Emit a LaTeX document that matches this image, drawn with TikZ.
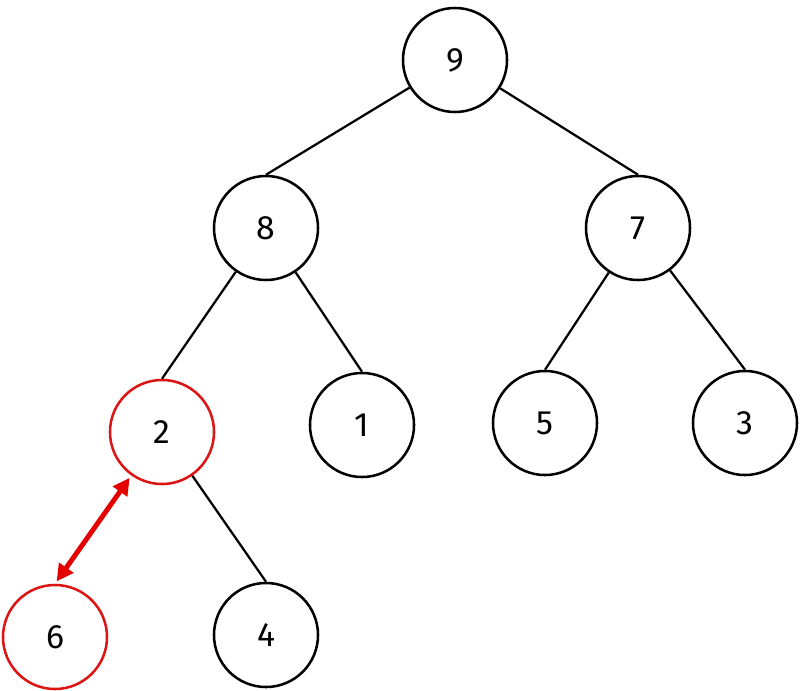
\documentclass[tikz,border=0pt]{standalone}
\usepackage{fontspec}
\setmainfont{Fira Sans}
\usetikzlibrary{arrows.meta}
\begin{document}
\begin{tikzpicture}[x=0.025cm,y=-0.025cm,
  n/.style={circle,draw,line width=1.8pt,minimum size=2.6cm,inner sep=0pt,font=\fontsize{24}{28}\selectfont},
  r/.style={n,draw={rgb,255:red,220;green,20;blue,20}},
  e/.style={line width=1.6pt}]
\useasboundingbox (0,0) rectangle (800,690);
\node[n] (n9) at (455,60) {9};
\node[n] (n8) at (266,228) {8};
\node[n] (n7) at (638,228) {7};
\node[r] (n2) at (162,432) {2};
\node[n] (n1) at (362,425) {1};
\node[n] (n5) at (545,423) {5};
\node[n] (n3) at (745,423) {3};
\node[r] (n6) at (55,637) {6};
\node[n] (n4) at (266,635) {4};
\draw[e] (n9)--(n8.north); \draw[e] (n9)--(n7.north);
\draw[e] (n8)--(n2.north); \draw[e] (n8)--(n1.north);
\draw[e] (n7)--(n5.north); \draw[e] (n7)--(n3.north);
\draw[e] (n2)--(n4.north);
\draw[line width=3.5pt,red!90!black,{Triangle[length=12pt,width=12pt]}-{Triangle[length=12pt,width=12pt]},shorten <=2pt,shorten >=2pt] (n2)--(n6.north);
\end{tikzpicture}
\end{document}
